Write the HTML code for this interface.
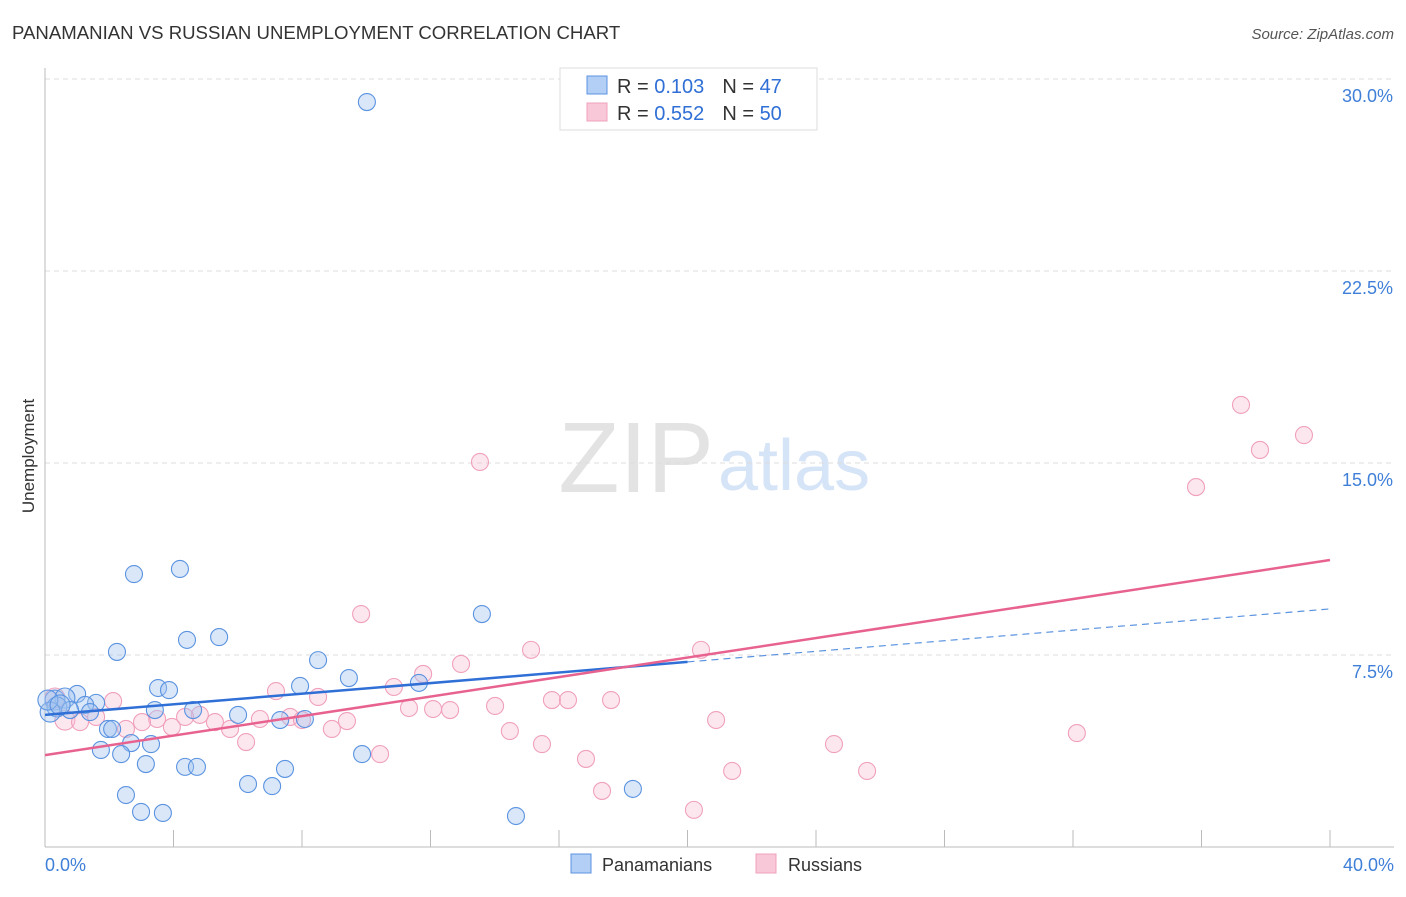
<!DOCTYPE html>
<html><head><meta charset="utf-8"><style>
body{margin:0;background:#fff;font-family:"Liberation Sans",sans-serif}
svg text{font-family:"Liberation Sans",sans-serif}
</style></head><body>
<svg id="chart" width="1406" height="892" viewBox="0 0 1406 892">
<text x="12" y="39" font-size="18.6" fill="#333">PANAMANIAN VS RUSSIAN UNEMPLOYMENT CORRELATION CHART</text>
<text x="1394" y="39" font-size="15" fill="#555" text-anchor="end" font-style="italic">Source: ZipAtlas.com</text>
<text x="714" y="492" font-size="100" fill="#e3e3e3" text-anchor="end" font-family="Liberation Serif">ZIP</text>
<text x="718" y="490" font-size="72" fill="#d6e4f7">atlas</text>
<g id="grid"></g>
<g id="axes"></g>
<g id="marks"></g>
<text transform="translate(34,456) rotate(-90)" font-size="17" fill="#333" text-anchor="middle">Unemployment</text>
<g>
<rect x="560" y="68" width="257" height="62" fill="#fff" stroke="#ddd"/>
<rect x="587" y="76" width="20" height="18" fill="#b3cff5" stroke="#5b93e0"/>
<rect x="587" y="103" width="20" height="18" fill="#f9c8d8" stroke="#f0a0bc"/>
<text x="617" y="93" font-size="20" fill="#333">R = <tspan fill="#2f6fd6">0.103</tspan><tspan dx="18">N = </tspan><tspan fill="#2f6fd6">47</tspan></text>
<text x="617" y="120" font-size="20" fill="#333">R = <tspan fill="#2f6fd6">0.552</tspan><tspan dx="18">N = </tspan><tspan fill="#2f6fd6">50</tspan></text>
</g>
<g>
<rect x="571" y="854" width="20" height="19" fill="#b3cff5" stroke="#5b93e0"/>
<text x="602" y="871" font-size="18" fill="#333">Panamanians</text>
<rect x="756" y="854" width="20" height="19" fill="#f9c8d8" stroke="#f0a0bc"/>
<text x="788" y="871" font-size="18" fill="#333">Russians</text>
</g>
</svg>
<script>
const blueX=[10.02,2.77,4.20,2.24,4.42,5.42,13.60,8.50,9.46,11.64,3.52,3.86,7.94,1.00,0.31,0.62,1.59,1.25,0.37,3.42,4.61,6.01,7.32,8.09,1.96,2.09,2.68,3.30,1.74,2.37,9.87,3.14,4.36,4.73,7.47,6.32,7.07,2.52,2.99,3.67,14.66,18.30,0.16,0.78,1.40,0.09,0.47];
const blueY=[29.10,10.66,10.86,7.62,8.09,8.20,9.10,7.30,6.60,6.41,6.21,6.13,6.29,5.98,5.74,5.82,5.63,5.55,5.47,5.35,5.35,5.16,4.96,5.00,4.61,4.61,4.06,4.02,3.79,3.63,3.63,3.24,3.13,3.13,3.05,2.46,2.38,2.03,1.37,1.33,1.21,2.27,5.27,5.35,5.27,5.74,5.55];
const pinkX=[37.23,39.19,37.82,35.83,13.54,9.84,20.42,15.13,12.95,11.77,10.86,7.19,8.50,2.12,0.31,32.12,15.78,16.28,17.62,11.33,12.08,12.61,14.01,7.63,4.82,4.36,3.49,3.02,5.29,6.69,8.00,9.40,20.89,5.76,3.95,8.93,2.52,14.47,0.62,1.09,1.59,6.26,15.47,24.56,10.43,16.84,21.39,25.59,17.34,20.20];
const pinkY=[17.27,16.09,15.51,14.06,15.04,9.10,7.70,7.70,7.15,6.76,6.25,6.09,5.86,5.70,5.82,4.45,5.74,5.74,5.74,5.43,5.39,5.35,5.51,5.08,5.16,5.08,5.00,4.88,4.88,5.00,4.96,4.92,4.96,4.61,4.69,4.61,4.61,4.53,4.96,4.88,5.08,4.10,4.02,4.02,3.63,3.44,2.97,2.97,2.19,1.45];
const blueTrend=[5.16,9.30];
const pinkTrend=[3.59,11.21];
const yTicks=[7.5,15,22.5,30];
const yTickLabels=["7.5%","15.0%","22.5%","30.0%"];
const NS="http://www.w3.org/2000/svg";
const sx=v=>45+v*32.125, sy=v=>847-v*25.6;
function mk(tag,attrs,parent){const e=document.createElementNS(NS,tag);for(const k in attrs)e.setAttribute(k,attrs[k]);parent.appendChild(e);return e;}
const grid=document.getElementById('grid'),axes=document.getElementById('axes'),marks=document.getElementById('marks');
yTicks.forEach((t,i)=>{
 const l=mk('line',{x1:45,x2:1394,y1:sy(t),y2:sy(t),stroke:'#ddd','stroke-dasharray':'5,4'},grid);
 
 
 const tx=mk('text',{x:1393,y:sy(t)+23,'font-size':18,fill:'#3f7fd8','text-anchor':'end'},axes);
 tx.textContent=yTickLabels[i];
 
 
});
const ya=mk('line',{x1:45,x2:45,y1:68,y2:847,stroke:'#bbb'},axes);


const xa=mk('line',{x1:45,x2:1394,y1:847,y2:847,stroke:'#bbb'},axes);


for(let k=1;k<=10;k++){const t=mk('line',{x1:sx(k*4),x2:sx(k*4),y1:830,y2:847,stroke:'#bbb'},axes);
 
 }
[["0.0%",45,'start'],["40.0%",1394,'end']].forEach(a=>{const t=mk('text',{x:a[1],y:871,'font-size':18,fill:'#3f7fd8','text-anchor':a[2]},axes);t.textContent=a[0];
 
 });
function dots(X,Y,fill,stroke,name){X.forEach((x,i)=>{const r=(x<0.7)?10:8.5;
 const c=mk('circle',{cx:sx(x),cy:sy(Y[i]),r:r,fill:fill,stroke:stroke,'stroke-width':1.1},marks);
 
 });}
dots(pinkX,pinkY,'rgba(248,185,208,0.35)','#f0a0bc','russian-point');
dots(blueX,blueY,'rgba(160,196,240,0.4)','#5b93e0','panamanian-point');
const bt=v=>blueTrend[0]+(blueTrend[1]-blueTrend[0])*v/40;
const b1=mk('line',{x1:sx(0),y1:sy(bt(0)),x2:sx(20),y2:sy(bt(20)),stroke:'#2f6fd6','stroke-width':2.5},marks);


const b2=mk('line',{x1:sx(20),y1:sy(bt(20)),x2:sx(40),y2:sy(bt(40)),stroke:'#5b93e0','stroke-width':1.2,'stroke-dasharray':'7,5'},marks);


const p1=mk('line',{x1:sx(0),y1:sy(pinkTrend[0]),x2:sx(40),y2:sy(pinkTrend[1]),stroke:'#e8628f','stroke-width':2.5},marks);


</script>
</body></html>
